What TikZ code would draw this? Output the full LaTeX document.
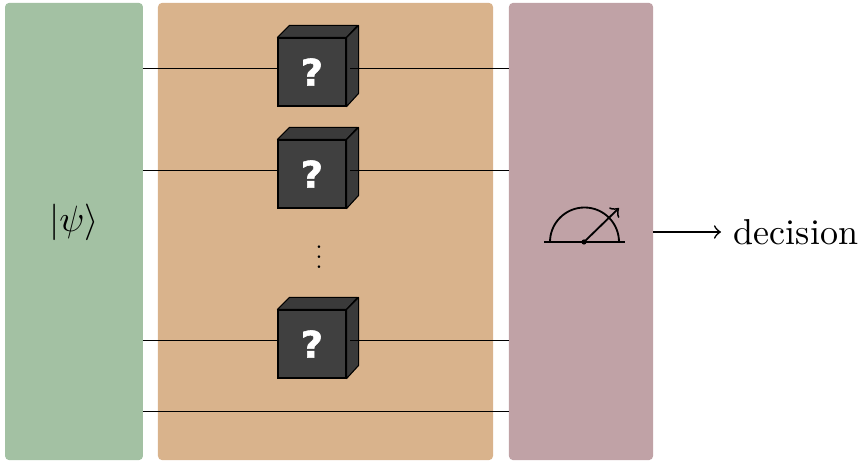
\documentclass[tikz,border=0pt]{standalone}
\usepackage{fontspec}
\newfontfamily\qfont{DejaVu Sans}[BoldFeatures={FakeBold=1.5,FakeStretch=1.05}]
\definecolor{statecol}{HTML}{A3C1A3}
\definecolor{oraclecol}{HTML}{D9B38C}
\definecolor{meascol}{HTML}{C0A2A6}
\definecolor{cubecol}{HTML}{404040}
\tikzset{
  panel/.style={rectangle,rounded corners=1.1pt,inner sep=0pt,outer sep=0pt,draw=none},
  wire/.style={line width=0.2pt},
  cube/.style={rectangle,draw=black,fill=cubecol,line width=0.3pt,minimum size=18.6pt,inner sep=0pt,text=white,font=\qfont\bfseries\fontsize{10}{10}\selectfont},
  cubeface/.style={draw=black,fill=cubecol!90!black,line width=0.3pt,line join=round}
}
\begin{document}
\begin{tikzpicture}[x=0.2734pt,y=0.2734pt]

  \useasboundingbox (0,0) rectangle (859,-462);

  % Specification of panels
  \node[panel,fill=statecol,minimum width=37.7pt,minimum height=125pt] (state) at (74,-231.5) {};
  \node[panel,fill=oraclecol,minimum width=91.6pt,minimum height=125pt] (oracle) at (325.5,-231.5) {};
  \node[panel,fill=meascol,minimum width=39.4pt,minimum height=125pt] (meas) at (581,-231.5) {};

  \node (psi) at (74,-222) {$|\psi\rangle$};
  \node[scale=0.68] (dots) at (319,-249.5) {$\vdots$};
  \node[anchor=west,font=\fontsize{9.85}{12}\selectfont] (decision) at (721,-232) {decision};

  % Wires
  \coordinate (w1) at (0,-68);
  \coordinate (w2) at (0,-170);
  \coordinate (w3) at (0,-340);
  \coordinate (w4) at (0,-411);
  \draw[wire] (state.east |- w4) -- (meas.west |- w4);

  % Black boxes
  \foreach \name/\wname/\y in {c1/w1/72,c2/w2/174,c3/w3/344} {
    \draw[wire] (state.east |- \wname) -- (278,0 |- \wname);
    \node[cube] (\name) at (312,-\y) {?};
    \draw[cubeface] (\name.north west) -- ++(12,12) -- ++(68,0) -- (\name.north east) -- cycle;
    \draw[cubeface] (\name.north east) -- ++(12,12) -- ++(0,-68) -- (\name.south east) -- cycle;
    \draw[wire] (350,0 |- \wname) -- (meas.west |- \wname);
  }

  % Meter
  \coordinate (m0) at (584,-242);
  \coordinate (m1) at (544,-242);
  \coordinate (m2) at (625,-242);
  \coordinate (m3) at (619,-208);
  \draw[line width=0.5pt] (m1) -- (m2);
  \draw[line width=0.5pt] (550,-242) arc (180:0:34.5);
  \draw[->,line width=0.5pt] (m0) -- (m3);
  \fill (m0) circle (2.6);

  \draw[->,line width=0.45pt] (meas.east |- decision) -- (decision);

\end{tikzpicture}
\end{document}
